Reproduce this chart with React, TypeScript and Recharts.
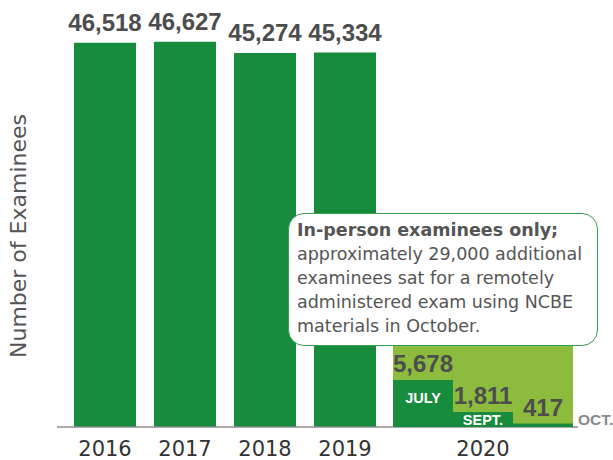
import { BarChart, Bar, XAxis, YAxis, LabelList, Label, ReferenceArea } from "recharts";

const YEARS = ["2016", "2017", "2018", "2019"];
const YEAR_TOTALS = [46518, 46627, 45274, 45334];
const MONTHS = ["JULY", "SEPT.", "OCT."];
const MONTH_TOTALS = [5678, 1811, 417];
const YEAR_2020 = "2020";
const Y_MAX = 50000;
const BACKDROP_TOP = 16000;
const Y_TITLE = "Number of Examinees";
const NOTE_TITLE = "In-person examinees only;";
const NOTE_LINES = [
  "approximately 29,000 additional",
  "examinees sat for a remotely",
  "administered exam using NCBE",
  "materials in October.",
];

const DARK_GREEN = "#178c3d";
const LIGHT_GREEN = "#8dbb3d";
const NUM_FONT = "'Liberation Sans', Arial, sans-serif";
const TEXT_FONT = "'DejaVu Sans', sans-serif";

const yearData = YEARS.map((year, i) => ({ year, value: YEAR_TOTALS[i] }));
const monthData = MONTHS.map((month, i) => ({ month, year: YEAR_2020, value: MONTH_TOTALS[i] }));

const fmt = (v: any) => Number(v).toLocaleString("en-US");

const W = 613;
const H = 460;
const MARGIN = { top: 14, right: 35, bottom: 3, left: 0 };

const tickStyle = { fill: "#333", fontSize: 21, fontFamily: TEXT_FONT };

function MonthName(props: any) {
  const x = Number(props.x);
  const y = Number(props.y);
  const width = Number(props.width);
  const height = Number(props.height);
  const bottom = y + height;
  if (height < 10) {
    return (
      <text x={x + width + 5} y={bottom - 2} fill="#8a8a8a" fontSize={15.5} fontWeight="bold" fontFamily={NUM_FONT}>
        {props.value}
      </text>
    );
  }
  return (
    <text
      x={x + width / 2}
      y={Math.min(y + 23, bottom - 2)}
      textAnchor="middle"
      fill="#fff"
      fontSize={14.5}
      fontWeight="bold"
      fontFamily={NUM_FONT}
    >
      {props.value}
    </text>
  );
}

function YTitle() {
  return (
    <text
      x={18}
      y={236}
      transform="rotate(-90 18 236)"
      textAnchor="middle"
      dominantBaseline="central"
      fill="#555"
      fontSize={22}
      fontFamily={TEXT_FONT}
    >
      {Y_TITLE}
    </text>
  );
}

export default function App() {
  return (
    <div style={{ position: "absolute", left: 0, top: 0, width: W, height: H, background: "#fff" }}>
      <div style={{ position: "absolute", left: 0, top: 0 }}>
        <BarChart width={W} height={H} data={yearData} margin={MARGIN} barCategoryGap={9}>
          <YAxis width={57} domain={[0, Y_MAX]} tick={false} axisLine={false} tickLine={false}>
            <Label content={<YTitle />} />
          </YAxis>
          <XAxis
            dataKey="year"
            height={30}
            padding={{ left: 8, right: 193 }}
            tickLine={false}
            tickSize={0}
            tickMargin={14}
            axisLine={{ stroke: "#8c8c8c", strokeWidth: 1.5 }}
            tick={tickStyle}
          />
          <Bar dataKey="value" fill={DARK_GREEN} isAnimationActive={false}>
            <LabelList
              dataKey="value"
              position="top"
              offset={12}
              formatter={fmt}
              fill="#4d4d4d"
              fontSize={24}
              fontWeight="bold"
              fontFamily={NUM_FONT}
            />
          </Bar>
        </BarChart>
      </div>
      <div style={{ position: "absolute", left: 0, top: 0 }}>
        <BarChart
          width={W}
          height={H}
          data={monthData}
          margin={{ ...MARGIN, left: 57 }}
          barCategoryGap={0}
        >
          <YAxis hide domain={[0, Y_MAX]} />
          <XAxis
            xAxisId="y"
            dataKey="year"
            allowDuplicatedCategory={false}
            height={30}
            padding={{ left: 336, right: 5 }}
            axisLine={false}
            tickLine={false}
            tickSize={0}
            tickMargin={14}
            tick={tickStyle}
          />
          <XAxis xAxisId="m" dataKey="month" hide height={0} padding={{ left: 336, right: 5 }} />
          <ReferenceArea
            xAxisId="m"
            x1={MONTHS[0]}
            x2={MONTHS[MONTHS.length - 1]}
            y1={0}
            y2={BACKDROP_TOP}
            fill={LIGHT_GREEN}
            fillOpacity={1}
            stroke="none"
          />
          <Bar xAxisId="m" dataKey="value" fill={DARK_GREEN} isAnimationActive={false}>
            <LabelList
              dataKey="value"
              position="top"
              offset={8}
              formatter={fmt}
              fill="#4d4d4d"
              fontSize={24}
              fontWeight="bold"
              fontFamily={NUM_FONT}
            />
            <LabelList dataKey="month" content={<MonthName />} />
          </Bar>
        </BarChart>
      </div>
      <div
        style={{
          position: "absolute",
          left: 288,
          top: 213,
          width: 310,
          height: 133,
          boxSizing: "border-box",
          border: "1.5px solid #3a9b55",
          borderRadius: 16,
          background: "#fff",
          padding: "4px 0 0 8px",
          fontFamily: TEXT_FONT,
          fontSize: 17.5,
          lineHeight: "24px",
          color: "#555",
          whiteSpace: "nowrap",
        }}
      >
        <div style={{ fontWeight: "bold" }}>{NOTE_TITLE}</div>
        {NOTE_LINES.map((line) => (
          <div key={line}>{line}</div>
        ))}
      </div>
    </div>
  );
}
